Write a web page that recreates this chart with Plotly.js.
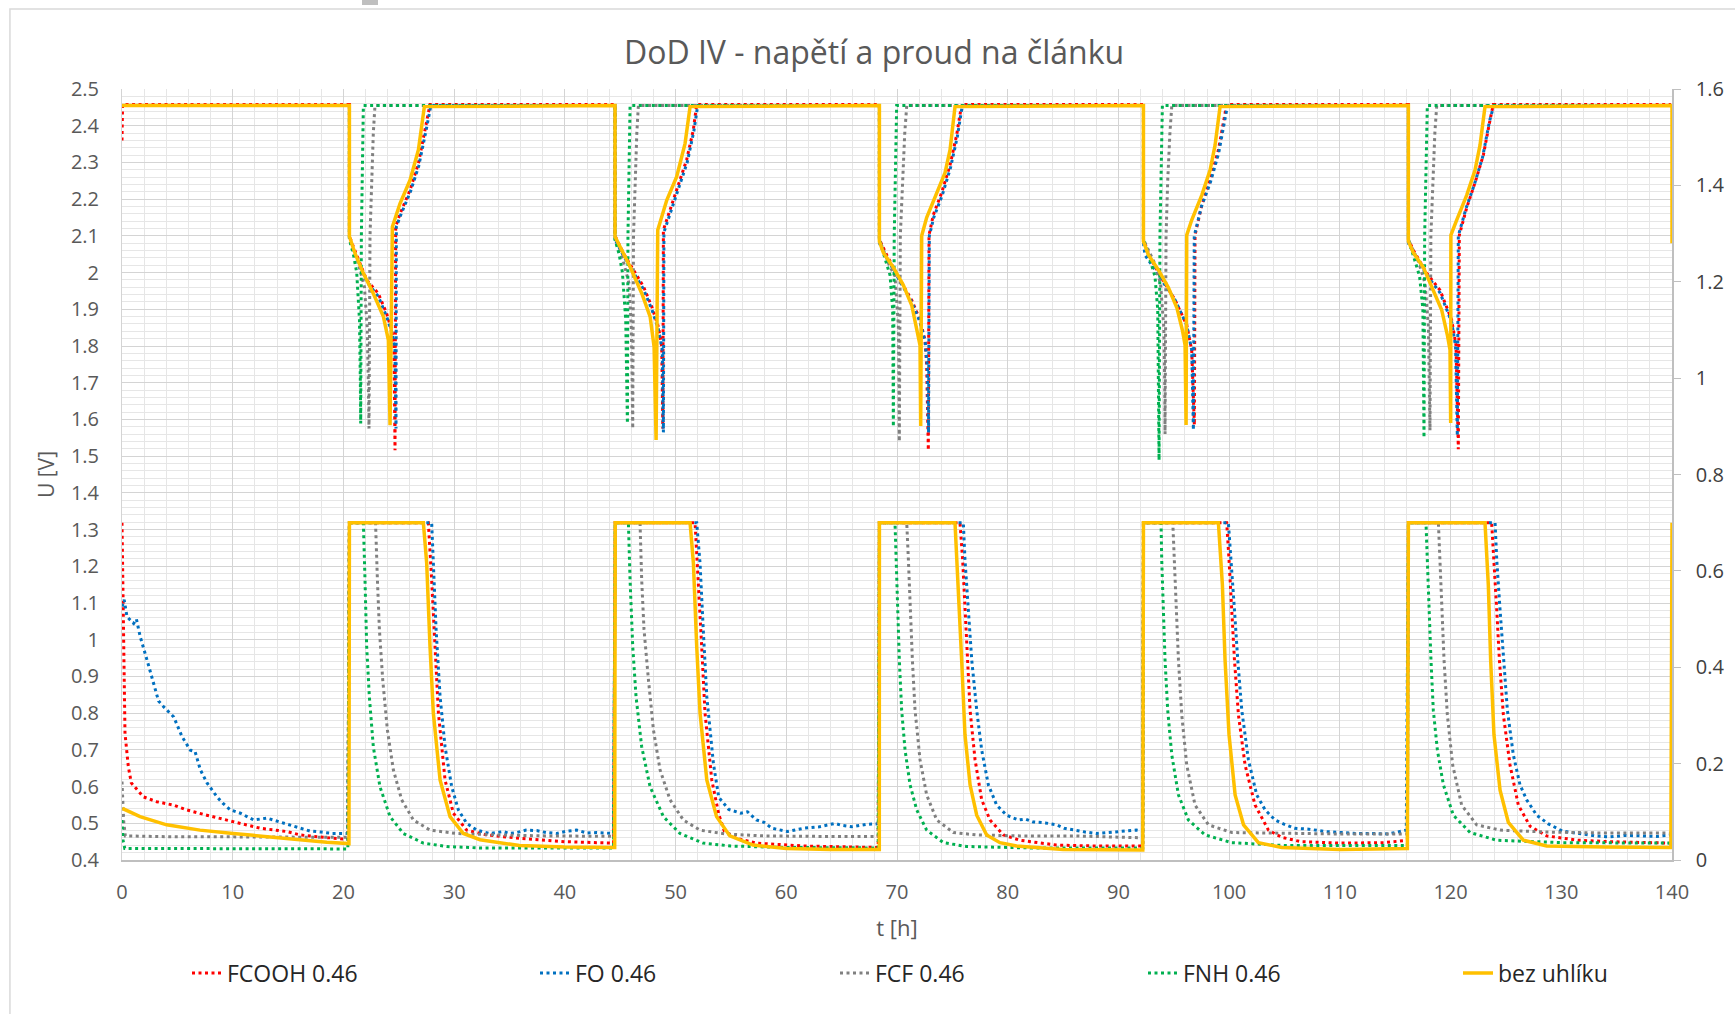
<!DOCTYPE html>
<html><head><meta charset="utf-8">
<script src="https://cdn.plot.ly/plotly-3.0.1.min.js"></script>
<style>html,body{margin:0;padding:0;background:#fff;}#chart{width:1735px;height:1014px;}</style>
</head><body><div id="chart"></div>
<script>
const chartTitle = 'DoD IV - napětí a proud na článku';
const xTitle = 't [h]';
const yTitle = 'U [V]';
const seriesNames = ['FCOOH 0.46', 'FO 0.46', 'FCF 0.46', 'FNH 0.46', 'bez uhlíku'];
const seriesColors = ['#FF0000', '#0070C0', '#808080', '#00B050', '#FFC000'];

// voltage [t (h), U (V)]
const FCOOH_U = [[0,2.36],[0.05,2.458],[20.54,2.458],[20.54,2.10],[20.9,2.07],[22.1,1.98],[23.15,1.943],[23.9,1.889],[24.36,1.843],[24.57,1.80],[24.66,1.516],[24.72,2.125],[25.11,2.16],[26.02,2.225],[26.77,2.297],[27.37,2.388],[27.82,2.458],
[44.53,2.458],[44.53,2.10],[45.3,2.052],[46.2,2.007],[47.1,1.962],[47.85,1.907],[48.45,1.852],[48.75,1.798],[48.85,1.575],[48.9,2.116],[49.5,2.17],[50.25,2.234],[51.0,2.307],[51.6,2.388],[51.91,2.458],
[68.41,2.458],[68.41,2.09],[69.07,2.048],[70.27,1.98],[71.33,1.925],[72.08,1.871],[72.53,1.816],[72.68,1.748],[72.83,1.516],[72.89,2.102],[73.28,2.157],[74.04,2.218],[74.79,2.293],[75.39,2.375],[75.84,2.458],
[92.26,2.458],[92.26,2.09],[92.8,2.045],[93.8,1.99],[95.12,1.925],[96.17,1.857],[96.62,1.789],[96.86,1.585],[96.92,2.102],[97.53,2.184],[98.28,2.252],[99.03,2.334],[99.63,2.429],[99.78,2.458],
[116.19,2.458],[116.19,2.09],[116.64,2.061],[117.8,2.0],[119.05,1.952],[120.1,1.871],[120.49,1.802],[120.7,1.519],[120.79,2.102],[121.46,2.177],[122.21,2.245],[122.96,2.32],[123.56,2.415],[123.86,2.458],[139.9,2.458]];

const FO_U = [[0,2.455],[20.54,2.455],[20.54,2.09],[20.9,2.06],[22.1,1.975],[23.15,1.935],[23.9,1.88],[24.4,1.835],[24.65,1.79],[24.75,1.575],[24.78,2.125],[25.15,2.155],[26.05,2.22],[26.8,2.29],[27.45,2.385],[27.9,2.455],
[44.53,2.455],[44.53,2.09],[45.3,2.045],[46.2,2.0],[47.1,1.955],[47.85,1.9],[48.45,1.845],[48.8,1.79],[48.9,1.565],[48.95,2.11],[49.55,2.165],[50.3,2.23],[51.05,2.30],[51.65,2.385],[52.0,2.455],
[68.41,2.455],[68.41,2.08],[69.07,2.04],[70.27,1.975],[71.33,1.92],[72.08,1.865],[72.55,1.81],[72.75,1.74],[72.85,1.564],[72.92,2.10],[73.32,2.15],[74.08,2.21],[74.83,2.285],[75.45,2.37],[75.9,2.455],
[92.26,2.455],[92.26,2.08],[92.4,2.048],[93.8,1.985],[95.12,1.925],[96.17,1.857],[96.62,1.789],[96.77,1.571],[96.85,2.10],[97.5,2.18],[98.3,2.245],[99.05,2.325],[99.65,2.42],[99.85,2.455],
[116.19,2.455],[116.19,2.08],[116.64,2.055],[117.8,1.995],[119.05,1.945],[120.1,1.865],[120.45,1.80],[120.61,1.555],[120.7,2.10],[121.4,2.175],[122.15,2.24],[122.9,2.315],[123.5,2.41],[123.9,2.455],[139.9,2.455]];

const FCF_U = [[0,2.455],[20.54,2.455],[20.54,2.09],[21.3,2.03],[21.9,1.96],[22.15,1.85],[22.25,1.7],[22.31,1.575],[22.4,2.1],[22.55,2.25],[22.7,2.38],[22.85,2.455],
[44.53,2.455],[44.53,2.09],[45.2,2.04],[45.8,1.97],[46.0,1.85],[46.08,1.7],[46.13,1.575],[46.2,2.1],[46.35,2.25],[46.5,2.38],[46.64,2.455],
[68.41,2.455],[68.41,2.09],[69.3,2.02],[69.82,1.99],[70.12,1.857],[70.18,1.7],[70.21,1.54],[70.3,2.1],[70.5,2.25],[70.7,2.38],[70.88,2.455],
[92.26,2.455],[92.26,2.09],[93.2,2.03],[93.8,1.97],[94.1,1.85],[94.18,1.7],[94.21,1.56],[94.3,2.1],[94.45,2.25],[94.65,2.38],[94.82,2.455],
[116.19,2.455],[116.19,2.09],[117.1,2.03],[117.7,1.97],[118.0,1.85],[118.1,1.7],[118.14,1.57],[118.22,2.1],[118.38,2.25],[118.58,2.38],[118.75,2.455],[139.9,2.455]];

const FNH_U = [[0,2.455],[20.54,2.455],[20.54,2.09],[20.9,2.05],[21.2,2.0],[21.45,1.87],[21.53,1.7],[21.56,1.589],[21.62,2.1],[21.7,2.3],[21.8,2.455],
[44.53,2.455],[44.53,2.09],[44.9,2.05],[45.2,2.0],[45.5,1.87],[45.6,1.7],[45.65,1.589],[45.7,2.1],[45.8,2.3],[45.89,2.455],
[68.41,2.455],[68.41,2.09],[68.9,2.04],[69.37,1.993],[69.61,1.898],[69.65,1.75],[69.67,1.58],[69.75,2.1],[69.85,2.3],[69.97,2.455],
[92.26,2.455],[92.26,2.09],[92.8,2.04],[93.3,1.99],[93.55,1.9],[93.63,1.7],[93.67,1.489],[93.75,2.1],[93.85,2.3],[93.97,2.455],
[116.19,2.455],[116.19,2.09],[116.7,2.04],[117.2,1.99],[117.5,1.9],[117.57,1.7],[117.6,1.55],[117.66,2.1],[117.77,2.3],[117.9,2.455],[139.9,2.455]];

const BEZ_U = [[0,2.455],[20.54,2.455],[20.54,2.098],[21.05,2.052],[21.80,1.998],[22.70,1.943],[23.61,1.880],[24.06,1.816],[24.21,1.584],[24.42,2.125],[25.11,2.188],[26.02,2.252],[26.77,2.334],[27.31,2.452],
[44.53,2.455],[44.53,2.098],[44.99,2.07],[45.89,2.016],[46.95,1.943],[47.70,1.88],[48.06,1.798],[48.24,1.544],[48.39,2.116],[49.20,2.197],[50.10,2.261],[50.86,2.352],[51.31,2.452],
[68.41,2.455],[68.41,2.085],[68.77,2.054],[69.67,2.014],[70.57,1.966],[71.33,1.911],[71.84,1.843],[72.08,1.802],[72.14,1.582],[72.23,2.10],[72.68,2.15],[73.59,2.218],[74.34,2.272],[74.79,2.334],[75.24,2.452],
[92.26,2.455],[92.26,2.085],[92.71,2.048],[93.61,2.007],[94.51,1.959],[95.27,1.905],[95.78,1.843],[96.02,1.802],[96.11,1.585],[96.17,2.102],[96.62,2.143],[97.53,2.211],[98.28,2.279],[98.73,2.347],[99.18,2.452],
[116.19,2.455],[116.19,2.085],[116.64,2.054],[117.54,2.014],[118.44,1.952],[119.20,1.898],[119.71,1.83],[119.95,1.789],[120.01,1.59],[120.03,2.102],[120.55,2.143],[121.46,2.211],[122.21,2.279],[122.66,2.347],[123.11,2.452],
[140.0,2.455],[140.0,2.08]];

// current [t (h), I (A)]
const FCOOH_I = [[0,0.70],[0.1,0.55],[0.27,0.263],[0.57,0.194],[0.84,0.16],[1.93,0.131],[3.13,0.121],[4.64,0.114],[5.84,0.104],[7.65,0.093],[10.06,0.08],[12.47,0.066],[14.88,0.059],[16.08,0.052],[18.2,0.047],[20.4,0.043],
[20.54,0.70],[27.67,0.70],[27.97,0.581],[28.28,0.443],[28.58,0.305],[29.18,0.166],[29.93,0.097],[31.14,0.062],[32.94,0.052],[35.9,0.045],[40,0.038],[44.4,0.035],
[44.55,0.70],[51.76,0.70],[52.06,0.581],[52.36,0.443],[52.66,0.305],[53.27,0.166],[53.9,0.095],[54.4,0.06],[55.5,0.045],[57.3,0.035],[61.6,0.029],[68.3,0.026],
[68.41,0.70],[75.69,0.70],[75.93,0.623],[76.14,0.519],[76.36,0.415],[76.6,0.311],[77.05,0.208],[77.65,0.125],[78.4,0.083],[79.61,0.052],[81.1,0.041],[84.4,0.031],[88,0.029],[92.2,0.029],
[92.26,0.70],[99.78,0.70],[99.99,0.623],[100.24,0.519],[100.48,0.415],[100.84,0.301],[101.44,0.197],[102.34,0.114],[103.55,0.062],[104.75,0.047],[106.5,0.038],[110,0.035],[114,0.036],[116.1,0.041],
[116.19,0.70],[123.71,0.70],[123.92,0.623],[124.17,0.519],[124.41,0.415],[124.77,0.301],[125.37,0.197],[126.12,0.114],[127.18,0.07],[128.68,0.05],[131.5,0.041],[134.4,0.038],[139.9,0.035]];

const FO_I = [[0,0.526],[0.2,0.54],[0.45,0.505],[1.05,0.491],[1.3,0.5],[1.65,0.463],[2.26,0.415],[2.86,0.367],[3.3,0.33],[3.76,0.318],[4.67,0.297],[5.42,0.256],[6.17,0.228],[6.6,0.225],[7.08,0.187],[7.68,0.16],[8.58,0.131],[9.1,0.118],[9.79,0.104],[10.7,0.097],[11.9,0.083],[13.1,0.087],[14.6,0.076],[16.1,0.066],[17,0.06],[18,0.058],[19,0.055],[20.4,0.055],
[20.54,0.70],[27.97,0.70],[28.12,0.616],[28.37,0.478],[28.73,0.339],[29.18,0.235],[29.78,0.152],[30.38,0.104],[31.14,0.076],[32.04,0.062],[33.24,0.055],[34.45,0.059],[35.0,0.055],[35.65,0.057],[36.5,0.062],[37.46,0.061],[38.3,0.057],[39.27,0.055],[40.2,0.06],[41.07,0.062],[42.0,0.056],[42.88,0.057],[44.4,0.055],
[44.55,0.70],[51.91,0.70],[52.21,0.616],[52.5,0.478],[52.82,0.339],[53.42,0.2],[53.9,0.13],[54.8,0.105],[55.9,0.097],[56.5,0.1],[57.3,0.083],[58.0,0.078],[58.7,0.066],[60.1,0.059],[61.6,0.066],[63.0,0.069],[64.4,0.076],[65.0,0.072],[65.9,0.069],[67.2,0.074],[68.35,0.075],
[68.41,0.70],[75.99,0.70],[76.14,0.623],[76.45,0.519],[76.75,0.415],[77.2,0.311],[77.65,0.228],[78.25,0.156],[79.0,0.114],[79.9,0.093],[80.96,0.083],[81.6,0.085],[82.3,0.079],[83.4,0.077],[84.4,0.073],[85.1,0.066],[85.9,0.062],[87.0,0.058],[88,0.055],[89.0,0.057],[90.2,0.059],[91.6,0.062],[92.2,0.06],
[92.26,0.70],[99.93,0.70],[100.18,0.623],[100.48,0.519],[100.78,0.415],[101.14,0.311],[101.74,0.208],[102.49,0.135],[103.25,0.104],[104.15,0.083],[104.9,0.075],[105.9,0.066],[107.2,0.064],[108.7,0.059],[110.2,0.057],[111.6,0.055],[113.0,0.055],[114.4,0.054],[116.0,0.062],
[116.19,0.70],[124.02,0.70],[124.17,0.623],[124.47,0.519],[124.77,0.415],[125.13,0.311],[125.67,0.218],[126.27,0.156],[126.87,0.125],[127.78,0.093],[128.83,0.075],[130.1,0.06],[131.6,0.055],[133.0,0.05],[134.4,0.048],[135.8,0.051],[137.3,0.05],[138.6,0.049],[139.9,0.052]];

const FCF_I = [[0,0.163],[0.15,0.08],[0.3,0.05],[5,0.048],[10,0.048],[15,0.047],[20.4,0.047],
[20.54,0.70],[22.9,0.70],[23.07,0.581],[23.25,0.478],[23.55,0.374],[23.97,0.27],[24.51,0.187],[25.26,0.125],[26.32,0.083],[27.82,0.062],[30.23,0.055],[33.85,0.052],[38.36,0.05],[44.4,0.049],
[44.55,0.70],[46.79,0.70],[46.94,0.581],[47.15,0.478],[47.55,0.374],[48.0,0.27],[48.6,0.187],[49.5,0.125],[50.7,0.083],[52.2,0.062],[54.5,0.054],[58,0.05],[63,0.049],[68.3,0.049],
[68.41,0.70],[70.88,0.70],[71.03,0.623],[71.18,0.519],[71.39,0.415],[71.63,0.311],[72.08,0.208],[72.68,0.135],[73.59,0.083],[75.09,0.057],[77.2,0.052],[81.1,0.05],[86,0.05],[92.2,0.046],
[92.26,0.70],[94.91,0.70],[95.06,0.623],[95.21,0.519],[95.42,0.415],[95.72,0.301],[96.17,0.197],[96.92,0.114],[98.13,0.073],[100.24,0.057],[104.75,0.055],[110,0.054],[116.1,0.054],
[116.19,0.70],[118.9,0.70],[119.05,0.623],[119.2,0.519],[119.41,0.415],[119.71,0.301],[120.19,0.197],[121.0,0.114],[122.36,0.073],[124.47,0.062],[128.68,0.058],[134,0.056],[139.9,0.056]];

const FNH_I = [[0,0.083],[0.1,0.04],[0.25,0.024],[10,0.023],[20.4,0.023],
[20.54,0.70],[21.8,0.70],[21.95,0.581],[22.1,0.443],[22.34,0.339],[22.7,0.235],[23.3,0.152],[24.21,0.09],[25.41,0.055],[27.22,0.035],[29.33,0.028],[32.34,0.025],[38,0.025],[44.4,0.025],
[44.55,0.70],[45.74,0.70],[45.89,0.581],[46.13,0.443],[46.43,0.339],[46.94,0.235],[47.7,0.152],[48.9,0.09],[50.4,0.055],[52.5,0.035],[55,0.029],[60,0.026],[68.3,0.025],
[68.41,0.70],[69.82,0.70],[69.91,0.623],[70.03,0.519],[70.21,0.415],[70.42,0.311],[70.73,0.228],[71.18,0.156],[71.78,0.104],[72.68,0.062],[74.19,0.036],[76.3,0.028],[82,0.025],[92.2,0.025],
[92.26,0.70],[93.85,0.70],[93.91,0.623],[94.06,0.519],[94.21,0.415],[94.45,0.311],[94.82,0.218],[95.42,0.135],[96.32,0.083],[97.83,0.052],[100.24,0.036],[105,0.03],[116.1,0.03],
[116.19,0.70],[117.78,0.70],[117.9,0.623],[118.05,0.519],[118.23,0.415],[118.44,0.311],[118.81,0.228],[119.35,0.156],[120.25,0.093],[121.76,0.057],[124.17,0.041],[130,0.036],[139.9,0.035]];

const BEZ_I = [[0.03,0.107],[1.63,0.09],[4.03,0.073],[7.04,0.062],[10.05,0.055],[13.06,0.048],[16.07,0.042],[18.5,0.037],[20.5,0.034],
[20.54,0.70],[27.22,0.70],[27.52,0.616],[27.82,0.443],[28.12,0.305],[28.73,0.166],[29.63,0.09],[30.83,0.055],[32.34,0.042],[35.9,0.03],[40,0.027],[44.5,0.026],
[44.55,0.70],[51.31,0.70],[51.61,0.616],[51.91,0.443],[52.21,0.305],[52.82,0.166],[53.7,0.09],[54.9,0.05],[57,0.031],[60,0.024],[64,0.022],[68.4,0.022],
[68.41,0.70],[75.24,0.70],[75.54,0.571],[75.84,0.415],[76.14,0.26],[76.6,0.156],[77.2,0.093],[78.1,0.052],[79.3,0.036],[80.8,0.029],[85,0.022],[92.2,0.021],
[92.26,0.70],[99.03,0.70],[99.39,0.571],[99.63,0.415],[99.99,0.26],[100.54,0.135],[101.3,0.073],[102.64,0.036],[104.75,0.026],[110,0.022],[116.1,0.024],
[116.19,0.70],[123.11,0.70],[123.41,0.571],[123.62,0.415],[123.92,0.26],[124.47,0.145],[125.22,0.078],[126.57,0.041],[128.68,0.029],[134,0.027],[139.9,0.026],[140,0.70]];

const voltageData = [FCOOH_U, FO_U, FCF_U, FNH_U, BEZ_U];
const currentData = [FCOOH_I, FO_I, FCF_I, FNH_I, BEZ_I];
const legendIds = ['legend', 'legend2', 'legend3', 'legend4', 'legend5'];
const legendTextStartPx = [228, 576, 876, 1184, 1499];

function lineStyle(i) {
  if (i === 4) return {color: seriesColors[i], width: 3.5, dash: 'solid'};
  return {color: seriesColors[i], width: 3, dash: '3px,3.5px'};
}

const traces = [];
voltageData.forEach((d, i) => {
  traces.push({
    type: 'scatter', mode: 'lines', name: seriesNames[i], legendgroup: 'g' + i, legend: legendIds[i],
    x: d.map(p => p[0]), y: d.map(p => p[1]), xaxis: 'x', yaxis: 'y',
    line: lineStyle(i), showlegend: true, hoverinfo: 'x+y+name'
  });
});
currentData.forEach((d, i) => {
  traces.push({
    type: 'scatter', mode: 'lines', name: seriesNames[i], legendgroup: 'g' + i, legend: legendIds[i],
    x: d.map(p => p[0]), y: d.map(p => p[1]), xaxis: 'x', yaxis: 'y2',
    line: lineStyle(i), showlegend: false, hoverinfo: 'x+y+name'
  });
});

const plotL = 122, plotW = 1550;
const layout = {
  width: 1735, height: 1014,
  margin: {l: 122, r: 63, t: 89, b: 154, pad: 0, autoexpand: false},
  paper_bgcolor: '#ffffff', plot_bgcolor: '#ffffff',
  font: {family: 'Open Sans, sans-serif', color: '#595959'},
  title: {text: chartTitle, font: {size: 32, color: '#595959'}, x: 874 / 1735, xanchor: 'center',
          y: 1 - 53 / 1014, yanchor: 'middle', xref: 'container', yref: 'container'},
  xaxis: {range: [0, 140], tick0: 0, dtick: 10, showgrid: true, gridcolor: '#d4d4d4', gridwidth: 1,
          minor: {dtick: 2, showgrid: true, gridcolor: '#e6e6e6', gridwidth: 1},
          showline: true, linecolor: '#bfbfbf', linewidth: 1.5, zeroline: false, ticks: '',
          tickfont: {size: 20, color: '#595959'}, ticklabelstandoff: 13,
          title: {text: xTitle, font: {size: 22, color: '#595959'}, standoff: 17}, automargin: false},
  yaxis: {range: [0.4, 2.5], tick0: 0.4, dtick: 0.1, showgrid: true, gridcolor: '#d4d4d4', gridwidth: 1,
          minor: {dtick: 0.02, showgrid: true, gridcolor: '#e6e6e6', gridwidth: 1},
          showline: true, linecolor: '#d4d4d4', zeroline: false, ticks: '',
          tickfont: {size: 20, color: '#595959'}, ticklabelstandoff: 18,
          title: {text: yTitle, font: {size: 21, color: '#595959'}, standoff: 10}, automargin: false},
  yaxis2: {range: [0, 1.6], tick0: 0, dtick: 0.2, overlaying: 'y', side: 'right', showgrid: false,
           zeroline: false, showline: true, linecolor: '#bfbfbf', linewidth: 1.5, ticks: 'outside', ticklen: 7,
           tickcolor: '#bfbfbf', tickfont: {size: 20, color: '#404040'}, ticklabelstandoff: 11, automargin: false},
  showlegend: true,
  shapes: [
    {type: 'rect', xref: 'paper', yref: 'paper', x0: -0.0723, x1: 1.06, y0: -0.22, y1: 1.1038,
     line: {color: '#d9d9d9', width: 1.5}, fillcolor: 'rgba(0,0,0,0)', layer: 'below'},
    {type: 'rect', xref: 'paper', yref: 'paper', x0: (362 - 122) / 1550, x1: (378 - 122) / 1550, y0: (860 - 5) / 771, y1: 1.12,
     line: {width: 0}, fillcolor: '#bfbfbf'}
  ]
};
legendIds.forEach((id, i) => {
  layout[id] = {orientation: 'h', x: (legendTextStartPx[i] - 41 - plotL) / plotW, xanchor: 'left',
                y: -0.1466, yanchor: 'middle', font: {size: 23, color: '#262626'},
                bgcolor: 'rgba(0,0,0,0)', borderwidth: 0};
});

Plotly.newPlot('chart', traces, layout, {displayModeBar: false, responsive: false});
</script>
</body></html>
